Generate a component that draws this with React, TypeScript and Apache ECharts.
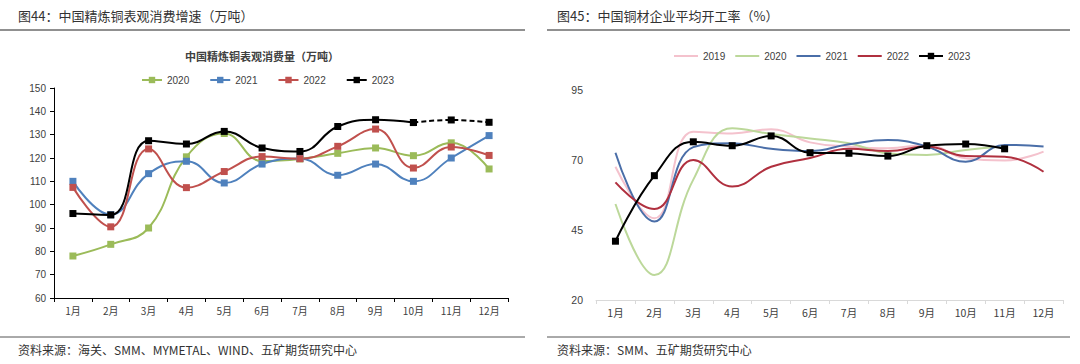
import React, { useEffect, useRef } from "react";
import * as echarts from "echarts";

const months = ["1月", "2月", "3月", "4月", "5月", "6月", "7月", "8月", "9月", "10月", "11月", "12月"];

// Left chart: 中国精炼铜表观消费量（万吨）
const c2020 = [78, 83, 90, 120.5, 130.5, 118.7, 119.6, 122, 124.3, 121, 126.5, 115.3];
const c2021 = [110, 95.7, 113.3, 118.6, 109.3, 117.4, 119.8, 112.6, 117.4, 110, 120, 129.6];
const c2022 = [107.4, 90.5, 123.9, 107.3, 114.2, 120.6, 119.7, 125, 132.4, 115.7, 124.7, 121.1];
const c2023 = [96.2, 95.6, 127.4, 126, 131.4, 124.3, 122.8, 133.5, 136.4, 135.2, null, null];
const c2023Est = [null, null, null, null, null, null, null, null, null, 135.2, 136.3, 135.3];
const leftTicks = { min: 60, max: 150, interval: 10 };

// Right chart: 中国铜材企业平均开工率（%）
const r2019 = [67.6, 49.2, 80.1, 79.5, 81, 76.3, 74.8, 74.2, 75.4, 70.6, 69.8, 73];
const r2020 = [54.3, 28.9, 63, 81.3, 79.3, 77.7, 76, 72.4, 71.8, 73.6, 74.8, null];
const r2021 = [72.6, 48, 74.6, 76, 74, 73.2, 75.6, 77.1, 74.8, 69.4, 75.4, 74.8];
const r2022 = [62, 52.5, 70, 60.5, 67.6, 70.7, 74, 73.2, 74.8, 71.4, 71.2, 65.8];
const r2023 = [41, 64.4, 76.5, 75.1, 78.6, 72.6, 72.4, 71.4, 75.1, 75.7, 74, null];
const rightTicks = { min: 20, max: 95, interval: 25 };

const FONT = "'Liberation Sans', Arial, 'Noto Sans CJK SC', sans-serif";
const CJK = "'Noto Sans CJK SC', sans-serif";

export default function App() {
  const ref = useRef<HTMLDivElement>(null);
  useEffect(() => {
    if (!ref.current) return;
    const chart = echarts.init(ref.current, null, { renderer: "svg" });
    const leftColors = { g: "#9BBB59", b: "#4F81BD", r: "#C0504D", k: "#000000" };
    const rc = { p: "#F4C2CD", g: "#BCD89A", b: "#4A6EA8", r: "#B0303F", k: "#000000" };

    const leftLine = (name: string, data: any[], color: string, dashed = false) => ({
      name,
      type: "line",
      xAxisIndex: 0,
      yAxisIndex: 0,
      data,
      smooth: 0.45,
      symbol: "rect",
      symbolSize: 7,
      showSymbol: true,
      connectNulls: false,
      lineStyle: { color, width: 2, type: dashed ? [5, 3] : "solid" },
      itemStyle: { color },
      z: name === "2023" ? 5 : 3,
    });
    const rightLine = (name: string, data: any[], color: string, marker = false) => ({
      name,
      type: "line",
      xAxisIndex: 1,
      yAxisIndex: 1,
      data,
      smooth: 0.45,
      symbol: marker ? "rect" : "none",
      symbolSize: 7,
      lineStyle: { color, width: 2 },
      itemStyle: { color },
      z: marker ? 5 : 3,
    });
    const noMark = (name: string) => ({ name, itemStyle: { opacity: 0 } });

    chart.setOption({
      animation: false,
      backgroundColor: "#ffffff",
      textStyle: { fontFamily: FONT },
      title: [
        {
          text: "中国精炼铜表观消费量（万吨）",
          left: 257,
          textAlign: "center",
          top: 45,
          textStyle: { fontFamily: CJK, fontSize: 11, fontWeight: "bold", color: "#404040" },
        },
      ],
      legend: [
        {
          data: ["2020", "2021", "2022", "2023"],
          left: 136,
          top: 70,
          itemWidth: 20,
          itemHeight: 8,
          itemGap: 20,
          textStyle: { fontSize: 10, color: "#404040", fontFamily: FONT },
        },
        {
          data: [noMark("R2019"), noMark("R2020"), noMark("R2021"), noMark("R2022"), "R2023"],
          left: 668,
          top: 46,
          itemWidth: 24,
          itemHeight: 8,
          itemGap: 9,
          formatter: (n: string) => n.replace("R", ""),
          textStyle: { fontSize: 10, color: "#404040", fontFamily: FONT },
        },
      ],
      grid: [
        { left: 54, top: 88, width: 454, height: 210 },
        { left: 596, top: 90, width: 467, height: 210 },
      ],
      xAxis: [
        {
          type: "category",
          gridIndex: 0,
          data: months,
          boundaryGap: true,
          axisLine: { lineStyle: { color: "#000", width: 1 } },
          axisTick: { show: true, length: 4, lineStyle: { color: "#000" } },
          axisLabel: { fontSize: 10, color: "#404040", margin: 7, fontFamily: CJK },
        },
        {
          type: "category",
          gridIndex: 1,
          data: months,
          boundaryGap: true,
          axisLine: { lineStyle: { color: "#D9D9D9", width: 1 } },
          axisTick: { show: true, length: 4, lineStyle: { color: "#D9D9D9" } },
          axisLabel: { fontSize: 10.5, color: "#404040", margin: 7, fontFamily: CJK },
        },
      ],
      yAxis: [
        {
          type: "value",
          gridIndex: 0,
          min: leftTicks.min,
          max: leftTicks.max,
          interval: leftTicks.interval,
          axisLine: { show: true, lineStyle: { color: "#000", width: 1 } },
          axisTick: { show: true, length: 4, lineStyle: { color: "#000" } },
          splitLine: { show: false },
          axisLabel: { fontSize: 10, color: "#404040", margin: 8 },
        },
        {
          type: "value",
          gridIndex: 1,
          min: rightTicks.min,
          max: rightTicks.max,
          interval: rightTicks.interval,
          axisLine: { show: false },
          axisTick: { show: false },
          splitLine: { show: false },
          axisLabel: { fontSize: 10.5, color: "#404040", margin: 13 },
        },
      ],
      series: [
        leftLine("2020", c2020, leftColors.g),
        leftLine("2021", c2021, leftColors.b),
        leftLine("2022", c2022, leftColors.r),
        leftLine("2023", c2023, leftColors.k),
        leftLine("2023", c2023Est, leftColors.k, true),
        rightLine("R2019", r2019, rc.p),
        rightLine("R2020", r2020, rc.g),
        rightLine("R2021", r2021, rc.b),
        rightLine("R2022", r2022, rc.r),
        rightLine("R2023", r2023, rc.k, true),
      ],
      graphic: [
        {
          type: "text",
          left: 18,
          top: 9,
          style: { text: "图44：中国精炼铜表观消费增速（万吨）", fontSize: 13, fill: "#333", fontFamily: CJK },
        },
        {
          type: "text",
          left: 557,
          top: 9,
          style: { text: "图45：中国铜材企业平均开工率（%）", fontSize: 13, fill: "#333", fontFamily: CJK },
        },
        { type: "line", shape: { x1: 0, y1: 30, x2: 525, y2: 30 }, style: { stroke: "#222", lineWidth: 1.2 } },
        { type: "line", shape: { x1: 547, y1: 30, x2: 1070, y2: 30 }, style: { stroke: "#222", lineWidth: 1.2 } },
        { type: "line", shape: { x1: 0, y1: 337, x2: 525, y2: 337 }, style: { stroke: "#555", lineWidth: 1 } },
        { type: "line", shape: { x1: 547, y1: 337, x2: 1070, y2: 337 }, style: { stroke: "#555", lineWidth: 1 } },
        {
          type: "text",
          left: 18,
          top: 343,
          style: { text: "资料来源：海关、SMM、MYMETAL、WIND、五矿期货研究中心", fontSize: 12, fill: "#333", fontFamily: CJK },
        },
        {
          type: "text",
          left: 557,
          top: 343,
          style: { text: "资料来源：SMM、五矿期货研究中心", fontSize: 12, fill: "#333", fontFamily: CJK },
        },
      ],
    });
    return () => chart.dispose();
  }, []);
  return (
    <div
      ref={ref}
      style={{ position: "fixed", left: 0, top: 0, width: 1080, height: 364, background: "#fff" }}
    />
  );
}
